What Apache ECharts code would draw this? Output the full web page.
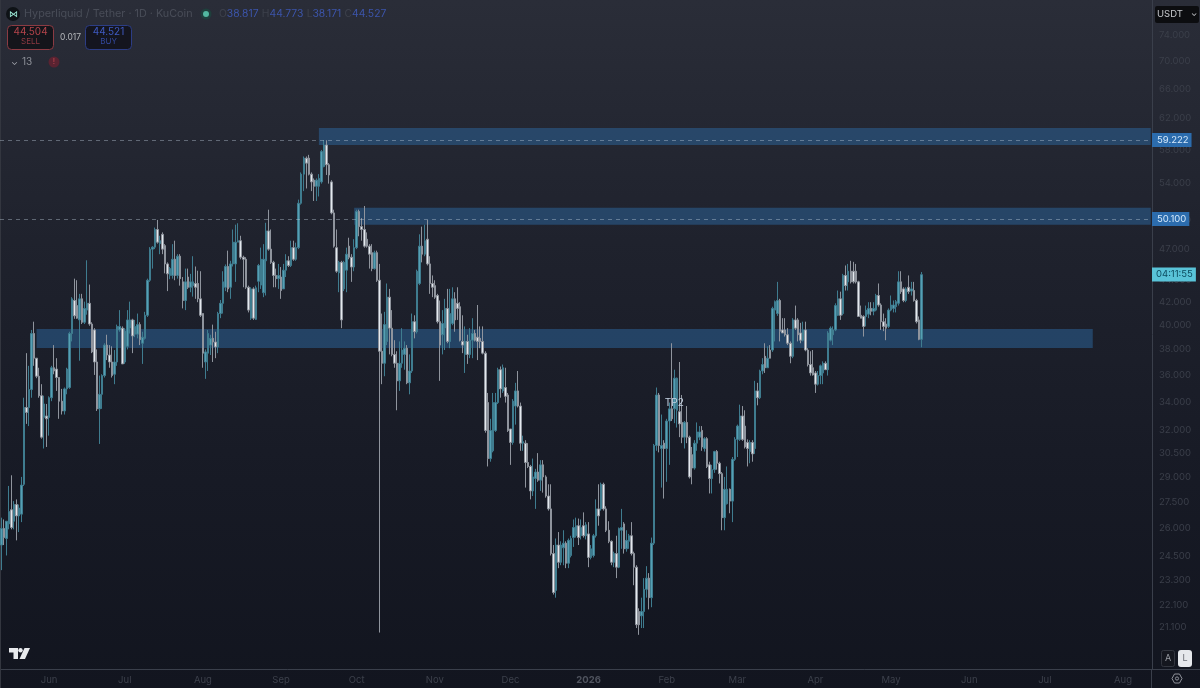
<!DOCTYPE html>
<html><head><meta charset="utf-8"><style>html,body{margin:0;padding:0;background:#131620}#c{width:1200px;height:688px}</style>
<script src="https://cdn.jsdelivr.net/npm/echarts@6/dist/echarts.min.js"></script></head>
<body><div id="c"></div><script>
// [open, close, low, high] per day
const may25=[[25.1,26.0,23.8,26.6],[26.0,25.5,25.1,26.5],[25.45,26.4,24.55,26.4],[26.25,26.95,25.95,28.45],[27.05,26.05,25.95,29.1],[26.4,27.35,25.95,27.55],[27.35,26.7,25.35,27.65],[26.7,27.15,25.8,27.35],[26.8,28.5,26.35,29.0],[28.55,33.6,28.45,34.3],[33.6,33.25,32.45,37.7],[33.6,34.9,32.3,36.7],[34.9,39.3,34.3,39.6],[39.3,37.3,36.7,40.3],[37.3,35.9,35.75,37.3],[35.9,34.45,34.3,36.55],[34.45,31.55,31.45,35.3],[32.9,33.85,30.8,34.45],[33.0,32.8,30.9,33.85]];
const jun25=[[32.9,34.3,31.65,34.4],[34.3,36.55,34.05,36.7],[36.55,36.3,36.05,38.35],[36.45,35.8,34.8,37.3],[35.8,34.05,32.8,35.8],[34.05,33.35,33.1,34.95],[33.35,34.95,33.1,35.05],[34.95,36.45,34.55,36.55],[35.05,39.3,34.95,39.45],[39.3,42.3,38.65,42.45],[42.15,40.8,40.55,44.15],[41.7,40.6,40.55,44.0],[40.45,42.3,37.1,42.75],[42.3,40.25,40.1,42.75],[40.25,41.45,40.1,42.05],[41.3,41.9,40.9,45.9],[41.9,40.1,39.95,43.6],[40.1,37.8,37.7,40.25],[39.6,37.0,36.0,39.75],[37.0,33.5,33.35,38.0],[33.5,34.55,31.1,35.95],[34.55,35.95,33.5,36.05],[35.95,38.35,35.8,38.5],[38.35,37.55,37.15,39.2],[37.55,37.0,36.55,38.35],[37.0,35.95,35.8,38.25],[36.05,37.0,35.3,37.95],[37.0,39.9,36.7,40.05],[39.6,39.9,39.45,41.3],[39.75,36.85,36.85,39.9]];
const jul25=[[37.0,39.5,36.85,39.75],[38.25,40.45,38.0,41.3],[39.75,40.45,39.3,42.05],[40.45,39.1,37.7,40.55],[39.25,39.9,39.0,40.45],[39.25,40.05,38.9,41.0],[40.05,38.8,38.35,40.25],[38.5,39.0,36.85,39.45],[38.9,40.85,38.8,41.15],[40.85,44.0,40.7,44.15],[44.0,47.0,43.85,47.2],[47.0,47.2,45.1,47.3],[47.2,49.0,47.0,49.2],[49.0,47.7,47.55,50.0],[47.55,47.85,46.5,48.35],[48.5,47.0,46.5,48.7],[47.35,45.55,44.65,47.5],[45.55,44.6,43.0,45.7],[44.45,45.1,44.1,45.25],[44.45,46.0,44.15,47.5],[46.0,44.45,44.0,47.85],[44.45,46.3,44.15,46.5],[46.3,44.15,43.5,46.5],[43.85,42.15,41.45,44.3],[42.15,43.85,41.3,45.1],[44.3,43.35,43.2,45.1],[43.35,43.85,42.9,44.6],[43.5,43.85,42.5,46.3],[43.7,43.35,42.3,45.3],[43.7,42.3,42.0,44.9],[42.3,40.85,40.7,44.85]];
const aug25=[[41.0,37.7,36.55,41.0],[37.0,37.8,35.7,38.0],[37.7,39.3,36.3,39.6],[38.35,38.9,37.55,39.2],[38.9,38.6,37.0,40.05],[38.6,38.2,37.3,39.45],[38.2,41.0,37.7,41.15],[41.0,41.9,40.6,42.2],[41.9,43.85,41.0,44.85],[43.35,45.3,43.0,45.5],[45.3,43.2,42.9,46.85],[43.35,45.55,42.3,45.85],[45.55,47.7,45.3,49.0],[45.55,47.7,43.85,49.5],[47.7,47.85,47.7,49.65],[47.85,46.2,46.0,48.35],[46.2,46.0,43.35,46.35],[46.0,43.35,43.2,46.2],[43.35,41.3,41.1,43.5],[40.6,43.2,40.45,43.35],[43.2,40.6,40.45,43.35],[40.5,43.3,40.45,43.5],[43.9,45.4,42.9,45.55],[43.55,46.0,43.2,47.15],[42.85,46.0,42.45,47.5],[45.85,48.85,42.6,49.7],[48.85,47.0,46.85,51.1],[47.0,45.7,45.55,49.0],[45.7,44.45,43.35,45.85],[44.45,44.15,43.35,45.1],[44.15,44.45,43.2,45.55]];
const sep25=[[44.3,43.05,42.3,45.25],[43.2,44.95,43.2,45.55],[44.95,45.85,44.3,46.5],[45.85,45.4,45.25,46.3],[45.4,47.15,45.25,47.85],[47.15,46.0,45.85,47.85],[46.0,47.15,45.85,47.65],[47.15,51.8,47.0,52.2],[51.8,55.1,51.65,55.3],[55.1,57.0,53.15,57.2],[57.0,56.4,53.45,57.2],[57.0,55.1,54.95,57.4],[55.1,54.2,53.15,55.3],[54.4,53.7,52.05,54.6],[53.7,54.4,52.05,54.6],[53.7,54.6,52.55,55.1],[54.2,57.8,54.0,58.0],[56.0,58.6,55.9,59.22],[58.6,56.2,55.0,59.2],[56.2,55.0,54.0,56.4],[54.2,50.75,50.6,54.4],[50.75,47.3,47.15,51.1],[47.15,44.85,44.7,49.0],[44.7,45.7,42.9,45.85],[45.7,40.45,39.75,45.85],[43.2,45.7,43.0,45.85],[44.95,46.5,42.9,47.15],[47.3,46.2,46.0,48.15],[46.2,45.25,43.85,46.5],[45.25,47.15,44.85,48.0]];
const oct25=[[47.15,50.9,47.0,51.1],[50.9,49.3,48.3,51.1],[49.3,49.0,47.85,50.2],[49.0,47.3,47.15,51.5],[48.0,47.3,47.15,48.7],[47.3,46.5,45.1,47.5],[46.65,45.1,44.85,47.5],[45.1,46.65,45.0,46.85],[46.65,44.0,43.85,46.85],[44.0,37.85,20.85,45.55],[37.85,36.9,35.3,41.0],[36.9,40.05,35.9,41.15],[38.65,42.45,38.35,43.7],[42.45,39.75,37.6,43.2],[39.75,37.6,37.45,41.3],[37.6,36.9,36.55,38.75],[36.9,35.55,33.4,37.85],[35.55,36.9,34.8,38.65],[36.9,37.95,36.55,39.75],[37.6,38.1,36.4,38.65],[38.1,35.4,35.3,38.35],[35.4,36.3,34.55,37.6],[36.3,40.3,36.15,41.0],[40.3,39.45,38.9,40.85],[39.45,44.85,39.3,45.0],[43.7,47.3,43.55,48.5],[47.3,46.5,45.7,49.3],[46.5,47.85,46.3,49.5],[48.0,45.55,45.4,50.0],[45.55,43.7,42.75,46.3],[43.7,43.35,42.45,44.45]];
const nov25=[[43.5,42.45,42.3,44.0],[42.6,40.3,40.15,42.75],[40.3,38.35,35.55,42.15],[39.2,40.15,37.6,41.3],[39.75,41.45,37.95,42.3],[41.45,38.65,38.5,43.2],[38.65,41.0,38.1,43.2],[40.15,42.3,40.0,43.35],[42.3,40.45,39.45,42.9],[41.9,41.45,40.45,43.35],[41.6,38.75,38.65,42.0],[38.65,38.35,37.7,40.85],[37.6,38.65,36.15,39.9],[38.65,37.6,36.85,39.2],[37.6,38.75,37.3,39.75],[38.75,39.3,37.3,40.6],[39.3,38.75,38.65,39.6],[39.0,38.65,37.15,41.75],[38.9,38.65,38.1,39.9],[38.65,37.7,37.6,39.9],[37.7,32.0,31.85,37.85],[33.95,30.15,29.65,34.65],[30.15,32.0,29.95,32.8],[30.65,33.95,30.55,34.65],[32.0,33.95,31.9,34.65],[33.95,36.4,33.85,36.55],[36.4,34.95,34.3,36.65],[34.8,36.55,34.65,36.8],[35.05,34.4,33.95,36.55],[34.5,32.0,31.9,34.65]];
const dec25=[[32.1,31.2,29.75,32.1],[31.2,34.05,31.05,34.2],[33.7,34.8,32.4,35.4],[34.8,33.7,33.6,36.3],[33.7,31.15,30.65,33.95],[31.15,31.25,30.65,31.65],[31.15,29.9,28.35,31.35],[29.9,29.65,29.55,31.15],[29.65,28.15,27.65,29.75],[28.15,29.0,27.85,30.15],[28.9,29.3,27.1,29.5],[29.3,28.8,28.7,30.5],[28.8,29.75,28.15,30.05],[29.75,29.0,28.05,30.05],[29.0,27.85,27.75,29.1],[27.85,27.1,27.0,28.55],[27.1,24.65,24.55,28.55],[24.65,22.7,22.6,25.1],[22.8,25.1,22.45,25.45],[25.1,24.2,23.9,25.8],[24.2,25.1,24.05,25.3],[24.95,25.2,24.05,25.9],[25.2,24.15,23.9,25.3],[24.15,25.35,23.9,25.45],[24.55,25.45,24.45,25.6],[25.5,26.05,25.0,26.5],[25.6,26.15,25.5,26.6],[26.15,25.5,25.1,26.55],[25.6,26.05,25.4,26.5],[26.15,25.6,25.5,26.9],[25.6,26.2,25.4,26.35]];
const jan26=[[25.7,24.45,23.95,26.35],[24.45,24.9,24.35,25.1],[24.55,25.6,24.45,25.7],[25.6,27.1,25.5,27.65],[27.1,26.7,26.15,28.55],[27.1,28.55,27.0,28.65],[28.55,27.1,27.0,28.65],[27.1,25.9,25.8,27.25],[25.9,25.3,25.2,26.4],[25.3,24.2,24.05,25.35],[24.2,24.65,23.95,24.75],[24.65,23.95,23.4,25.6],[23.95,26.0,23.9,26.05],[25.9,26.05,24.9,27.1],[26.25,24.9,24.65,26.35],[24.9,25.35,24.75,25.9],[25.3,25.6,24.9,25.7],[25.6,24.65,24.55,26.35],[24.65,23.95,23.05,24.75],[23.95,21.2,21.05,24.05],[21.8,21.2,20.75,21.95],[21.6,21.8,21.05,22.45],[21.8,22.85,21.05,23.4],[22.85,23.4,22.45,24.0],[23.4,22.45,21.9,23.65],[22.45,25.2,22.0,25.5],[25.2,31.0,25.1,31.1],[31.0,34.5,30.65,35.05],[34.5,31.0,30.55,34.65],[30.8,31.0,28.35,33.1],[31.15,30.8,27.7,31.35]];
const feb26=[[30.8,32.65,28.7,32.8],[32.65,33.5,29.75,33.95],[33.5,32.8,32.65,38.5],[33.5,35.75,32.5,36.4],[33.4,35.75,32.2,35.8],[33.3,32.45,31.55,37.0],[32.55,31.55,31.15,34.5],[31.55,32.55,30.8,32.65],[32.55,31.55,31.15,33.7],[31.55,29.0,28.9,31.65],[30.4,29.55,28.55,30.9],[29.55,31.15,29.45,31.35],[31.15,31.9,30.65,32.55],[31.55,31.9,31.35,32.3],[32.0,30.9,30.65,32.3],[30.8,31.45,30.6,31.55],[31.45,29.65,29.55,31.55],[29.75,28.9,28.0,29.95],[28.9,29.45,28.0,29.75],[29.45,30.6,29.25,30.65],[30.6,29.85,29.45,30.7],[29.85,29.2,28.6,29.95],[29.2,26.6,25.9,29.3],[26.6,28.25,25.9,29.0],[27.4,28.25,27.35,29.65],[28.25,27.55,26.85,28.3],[27.55,30.1,26.35,30.25],[30.1,31.4,30.0,31.55]];
const mar26=[[31.4,32.3,30.25,32.4],[31.4,33.0,31.3,33.8],[33.0,31.4,31.3,33.7],[32.3,30.9,30.8,33.4],[31.2,30.8,29.65,31.4],[30.6,31.2,29.85,31.35],[31.2,30.45,29.95,31.35],[30.8,34.8,30.45,35.55],[34.8,34.3,33.75,35.4],[34.3,36.3,34.2,36.4],[36.3,36.8,36.05,37.3],[37.45,36.55,36.15,38.5],[36.55,37.3,36.55,38.25],[37.95,37.3,37.3,38.35],[37.95,41.45,37.8,41.6],[41.3,42.05,38.65,42.15],[41.0,42.15,40.8,43.85],[42.15,39.5,38.65,42.3],[39.6,39.35,39.35,40.6],[39.6,39.2,39.05,40.6],[39.2,38.5,38.35,39.75],[38.5,37.45,36.9,38.65],[37.45,40.45,37.3,40.6],[40.45,39.75,39.6,41.7],[40.45,39.2,38.65,40.6],[39.35,38.75,38.5,40.2],[38.75,39.6,38.65,40.3],[39.6,37.95,37.85,40.3],[37.95,36.8,36.65,38.1],[36.8,36.15,35.95,37.85],[36.55,36.0,35.95,37.95]];
const apr26=[[36.15,35.3,34.65,36.3],[35.3,35.95,35.2,36.3],[35.95,36.7,35.3,36.8],[36.15,36.9,35.3,37.05],[36.9,36.4,36.4,37.05],[36.4,39.35,35.95,39.5],[38.75,39.75,38.65,39.9],[39.2,39.6,38.35,39.9],[39.6,41.7,39.5,41.9],[40.85,42.3,40.8,43.05],[42.3,40.85,40.45,42.95],[41.0,44.45,40.85,44.6],[44.45,43.5,43.05,45.4],[43.85,44.85,43.05,45.55],[44.85,43.85,43.7,45.85],[44.85,43.85,43.7,45.75],[44.85,43.85,43.7,45.55],[43.85,40.75,40.7,43.95],[40.85,40.6,40.6,41.7],[40.75,39.9,39.05,40.85],[40.75,41.3,39.9,41.7],[40.95,41.45,40.6,42.0],[41.45,41.2,40.85,42.0],[41.2,41.45,40.85,42.0],[41.3,42.6,41.2,42.75],[42.6,41.75,41.6,43.7],[41.75,40.3,39.6,41.9],[40.3,39.9,39.5,41.0],[40.1,39.75,38.75,40.6],[39.9,41.3,39.75,41.45]];
const may26=[[41.3,41.75,41.2,42.6],[41.45,41.75,41.1,42.15],[41.6,42.05,41.1,42.2],[41.9,43.85,41.7,44.85],[43.85,42.95,42.75,44.85],[43.2,42.15,42.0,43.35],[42.15,43.2,42.0,43.35],[43.35,42.95,42.75,44.45],[43.0,43.2,42.6,43.85],[43.05,42.15,42.05,43.85],[42.15,40.3,40.15,42.3],[40.45,38.82,38.75,40.75],[38.817,44.527,38.171,44.773]];

const priceTicks=[74,70,66,62,58,54,50,47,44,42,40,38,36,34,32,30.5,29,27.5,26,24.5,23.3,22.1,21.1];
const monthNames=['{y|2026}','Feb','Mar','Apr','May','Jun','Jul','Aug','Sep','Oct','Nov','Dec'];
const firstDay=Date.UTC(2025,4,13), dayCount=457;
const days=[];
for(let i=0;i<dayCount;i++) days.push(new Date(firstDay+i*864e5).toISOString().slice(0,10));
const candles=[].concat(may25,jun25,jul25,aug25,sep25,oct25,nov25,dec25,jan26,feb26,mar26,apr26,may26);
const zones=[['2025-09-16','2026-08-12',58.6,60.77],['2025-09-30','2026-08-12',49.5,51.3],['2025-05-27','2026-07-20',38.12,39.69]];
const levels=[59.222,50.1];
const lastClose=44.527, countdown='04:11:55', noteText='TP2', noteDay='2026-02-04', notePrice=33.95;

const chart=echarts.init(document.getElementById('c'),null,{renderer:'canvas'});
const F='Inter, "Noto Sans", sans-serif';
const t=(x,y,text,fill,size,extra)=>({type:'text',x,y,z:50,silent:true,style:Object.assign({text,fill,font:`${size}px ${F}`,textVerticalAlign:'middle'},extra||{})});
const box=(x,y,w,h,fill,stroke,r)=>({type:'rect',z:49,silent:true,shape:{x,y,width:w,height:h,r:r||0},style:{fill,stroke:stroke||null,lineWidth:1}});
chart.setOption({
 animation:false,
 backgroundColor:new echarts.graphic.LinearGradient(0,0,0,1,[{offset:0,color:'#2a2d38'},{offset:.35,color:'#1f222d'},{offset:.7,color:'#171a25'},{offset:1,color:'#12151f'}]),
 grid:{left:0,right:48,top:0,bottom:19,containLabel:false},
 xAxis:{type:'category',data:days,boundaryGap:true,
  axisLine:{show:true,lineStyle:{color:'#3a3f4b',width:1}},axisTick:{show:false},splitLine:{show:false},
  axisLabel:{margin:6,fontSize:9.5,fontFamily:F,color:'#3c404b',
   interval:(i,v)=>v.slice(8)==='01',
   formatter:v=>monthNames[+v.slice(5,7)-1],
   rich:{y:{fontSize:9.5,fontFamily:F,color:'#50545f',fontWeight:'bold'}},
   hideOverlap:false}},
 yAxis:{type:'log',logBase:10,position:'right',min:19.3,max:79.7,scale:true,
  axisLine:{show:true,lineStyle:{color:'#3a3f4b',width:1}},axisTick:{show:false},splitLine:{show:false},minorTick:{show:false},minorSplitLine:{show:false},
  axisLabel:{margin:7,fontSize:9.5,fontFamily:F,color:'#3b3f4a',customValues:priceTicks,formatter:v=>(+v).toFixed(3),align:'left',hideOverlap:false}},
 series:[{
  type:'candlestick',data:candles,barWidth:2,z:3,clip:true,
  itemStyle:{color:'#55a0b5',color0:'#e4e9ee',borderColor:'#3f7c8f',borderColor0:'#8f949d',borderWidth:1},
  markArea:{silent:true,z:1,itemStyle:{color:'rgba(44,104,160,0.5)'},
   data:zones.map(z=>[{xAxis:z[0],yAxis:z[2]},{xAxis:z[1],yAxis:z[3]}])},
  markLine:{silent:true,z:6,symbol:'none',
   data:[
    ...levels.map(v=>({yAxis:v,lineStyle:{color:'rgba(190,205,220,0.4)',type:[4,4],width:1},
      label:{show:true,position:'end',formatter:String(v.toFixed(3)),distance:0,backgroundColor:'#2c6cad',color:'#d5e9fb',fontSize:9.5,fontFamily:F,padding:[2,3,2,5]}})),
    {yAxis:lastClose,lineStyle:{color:'rgba(0,0,0,0)'},label:{show:true,position:'end',formatter:countdown,distance:0,backgroundColor:'#59c3d8',color:'#0d4c60',fontSize:9.5,fontFamily:F,padding:[2,3,2,4]}}
   ]},
  markPoint:{silent:true,symbol:'circle',symbolSize:0,data:[{coord:[noteDay,notePrice],label:{show:true,formatter:noteText,position:'inside',color:'#c4d2e2',fontSize:10,fontFamily:F}}]}
 }],
 graphic:[
  // header
  {type:'circle',z:49,silent:true,shape:{cx:13,cy:14,r:7},style:{fill:'#0e1216'}},
  t(9,14,'⋈','#9ff0dc',9),
  t(24,14,'Hyperliquid / Tether · 1D · KuCoin','#494d58',10.8),
  {type:'circle',z:49,silent:true,shape:{cx:206,cy:14,r:5.5},style:{fill:'#1f3f3c'}},
  {type:'circle',z:50,silent:true,shape:{cx:206,cy:14,r:3},style:{fill:'#52b8a0'}},
  {type:'text',x:219,y:14,z:50,silent:true,style:{text:'{a|O}{b|38.817} {a|H}{b|44.773} {a|L}{b|38.171} {a|C}{b|44.527}',textVerticalAlign:'middle',rich:{a:{fill:'#3d414c',font:`10.3px ${F}`},b:{fill:'#3c55ab',font:`10.3px ${F}`}}}},
  box(7.5,25.5,46,24,'#14151b','#8b3b43',4),
  t(30.5,32,'44.504','#b5444b',10,{textAlign:'center'}),
  t(30.5,42,'SELL','#8f3a42',8,{textAlign:'center'}),
  t(60,37,'0.017','#b4b6ba',8.5),
  box(85.5,25.5,46,24,'#14151f','#2c3d85',4),
  t(108.5,32,'44.521','#3f5ac2',10,{textAlign:'center'}),
  t(108.5,42,'BUY','#33499f',8,{textAlign:'center'}),
  t(11,62,'⌄','#a0a3aa',9),
  t(22,62,'13','#8c8f97',10),
  {type:'circle',z:49,silent:true,shape:{cx:54,cy:62,r:5.5},style:{fill:'#5a2331'}},
  t(54,62,'!','#c0454f',8,{textAlign:'center'}),
  // currency box
  box(1155,6,44,17,'#0c0d10',null,2),
  t(1157,14.5,'USDT','#c8cace',9.5),
  t(1191,14,'⌄','#c8cace',8),
  // TradingView mark
  {type:'polygon',z:50,silent:true,shape:{points:[[9,648],[18,648],[18,659],[13.5,659],[13.5,652.5],[9,652.5]]},style:{fill:'#e8eaed'}},
  {type:'circle',z:50,silent:true,shape:{cx:20.5,cy:650.2,r:2.2},style:{fill:'#e8eaed'}},
  {type:'polygon',z:50,silent:true,shape:{points:[[24.5,648],[30,648],[25,659],[19.5,659]]},style:{fill:'#e8eaed'}},
  // A / L buttons and gear
  box(1161.5,650.5,13,16,'#15171f','#33363f',2),
  t(1168,658.5,'A','#9a9da4',9,{textAlign:'center'}),
  box(1178,650,14,17,'#e6e8ec',null,3),
  t(1185,658.5,'L','#6a6d75',9,{textAlign:'center'}),
  {type:'polygon',z:50,silent:true,shape:{points:[[1172,678.5],[1174.5,674],[1179.5,674],[1182,678.5],[1179.5,683],[1174.5,683]]},style:{fill:'none',stroke:'#8f929a',lineWidth:1}},
  {type:'circle',z:50,silent:true,shape:{cx:1177,cy:678.5,r:1.6},style:{fill:'none',stroke:'#8f929a',lineWidth:1}},
  // axis separators
  {type:'line',z:2,silent:true,shape:{x1:1151.5,y1:669,x2:1151.5,y2:688},style:{stroke:'#3a3f4b',lineWidth:1}},
  {type:'line',z:2,silent:true,shape:{x1:0.5,y1:0,x2:0.5,y2:688},style:{stroke:'#33363f',lineWidth:1}},
  {type:'line',z:2,silent:true,shape:{x1:1151,y1:669.5,x2:1200,y2:669.5},style:{stroke:'#3a3f4b',lineWidth:1}}
 ]
});
</script></body></html>
